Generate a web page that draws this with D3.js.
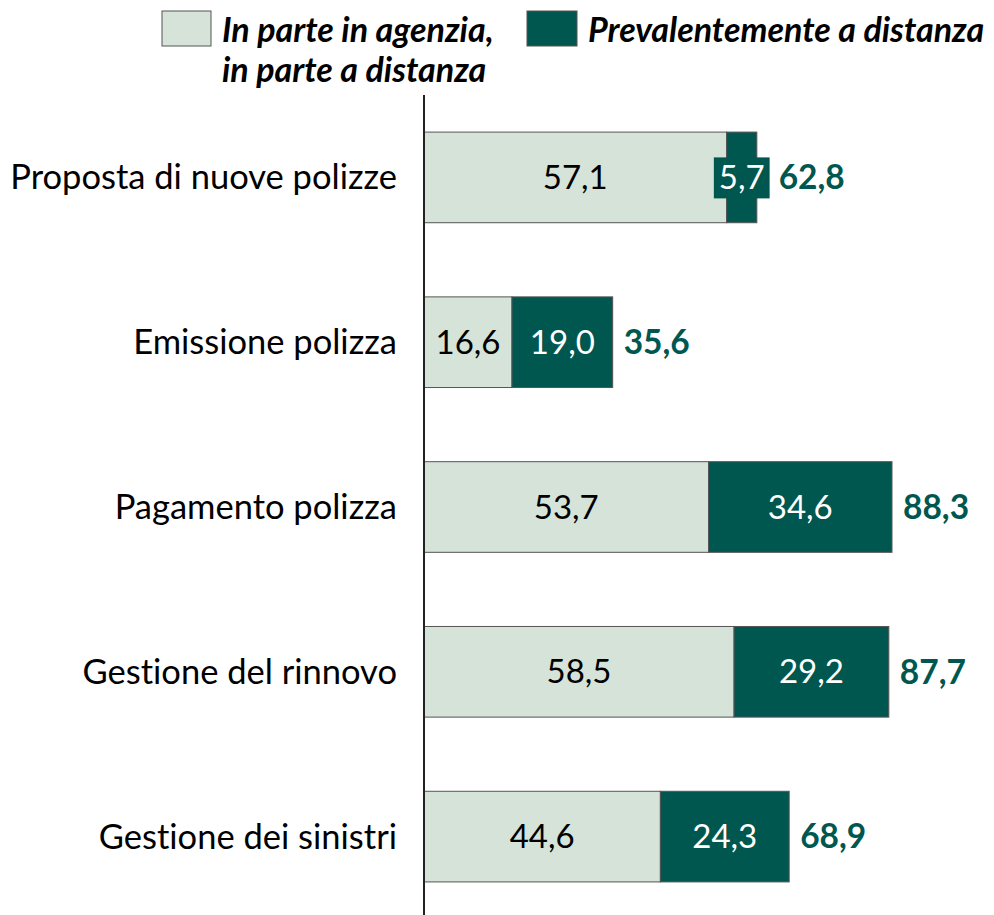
<!DOCTYPE html>
<html>
<head>
<meta charset="utf-8">
<script src="https://cdn.jsdelivr.net/npm/d3@7"></script>
<style>
  body { margin: 0; background: #fff; }
  svg { display: block; font-family: Lato, "Open Sans", sans-serif; font-variant-ligatures: none; }
</style>
</head>
<body>
<div id="chart"></div>
<script>
var categories = ["Proposta di nuove polizze", "Emissione polizza", "Pagamento polizza", "Gestione del rinnovo", "Gestione dei sinistri"]
var inParte = [57.1, 16.6, 53.7, 58.5, 44.6]
var distanza = [5.7, 19.0, 34.6, 29.2, 24.3]
var totali = [62.8, 35.6, 88.3, 87.7, 68.9]
var seriesNames = [["In parte in agenzia,", "in parte a distanza"], ["Prevalentemente a distanza"]]

var LIGHT = "#d5e3d8", DARK = "#00574f", STROKE = "#555"
var W = 994, H = 915
var X0 = 424

var fmt = function (v) { return v.toFixed(1).replace(".", ",") }

var svg = d3.select("#chart").append("svg")
    .attr("width", W)
    .attr("height", H)

var x = d3.scaleLinear().domain([0, 100]).range([X0, X0 + 530])
var y = d3.scaleBand().domain(categories).range([95, 919])
    .paddingInner(0.45).paddingOuter(0.225)

var rows = categories.map(function (c, i) {
    return { cat: c, a: inParte[i], b: distanza[i], t: totali[i] }
})

var g = svg.append("g")

// light segments
g.selectAll(".segA").data(rows).enter().append("rect")
    .attr("x", x(0))
    .attr("y", function (d) { return y(d.cat) })
    .attr("width", function (d) { return x(d.a) - x(0) })
    .attr("height", y.bandwidth())
    .attr("fill", LIGHT).attr("stroke", STROKE).attr("stroke-width", 1)

// dark segments
g.selectAll(".segB").data(rows).enter().append("rect")
    .attr("x", function (d) { return x(d.a) })
    .attr("y", function (d) { return y(d.cat) })
    .attr("width", function (d) { return x(d.a + d.b) - x(d.a) })
    .attr("height", y.bandwidth())
    .attr("fill", DARK).attr("stroke", STROKE).attr("stroke-width", 1)

// axis line
svg.append("line")
    .attr("x1", X0).attr("x2", X0)
    .attr("y1", 95).attr("y2", H)
    .attr("stroke", "#222").attr("stroke-width", 2)

// category labels
svg.selectAll(".cat").data(rows).enter().append("text")
    .attr("x", 397)
    .attr("y", function (d) { return y(d.cat) + y.bandwidth() / 2 })
    .attr("dy", "0.35em")
    .attr("text-anchor", "end")
    .attr("font-size", 34.5)
    .attr("fill", "#000")
    .text(function (d) { return d.cat })

// value labels in light segment
svg.selectAll(".labA").data(rows).enter().append("text")
    .attr("x", function (d) { return (x(0) + x(d.a)) / 2 })
    .attr("y", function (d) { return y(d.cat) + y.bandwidth() / 2 })
    .attr("dy", "0.35em")
    .attr("text-anchor", "middle")
    .attr("font-size", 33)
    .attr("fill", "#000")
    .text(function (d) { return fmt(d.a) })

// value labels in dark segment (with a box when the segment is narrow)
var labB = svg.selectAll(".labB").data(rows).enter().append("g")
labB.each(function (d) {
    var cx = (x(d.a) + x(d.a + d.b)) / 2
    var cy = y(d.cat) + y.bandwidth() / 2
    var t = d3.select(this).append("text")
        .attr("x", cx).attr("y", cy)
        .attr("dy", "0.35em")
        .attr("text-anchor", "middle")
        .attr("font-size", 33)
        .attr("fill", "#fff")
        .text(fmt(d.b))
    var tw = t.node().getComputedTextLength()
    if (tw + 6 > x(d.a + d.b) - x(d.a)) {
        d3.select(this).insert("rect", "text")
            .attr("x", cx - tw / 2 - 5)
            .attr("y", cy - 20)
            .attr("width", tw + 10)
            .attr("height", 41)
            .attr("fill", DARK)
        d.labRight = cx + tw / 2 + 5
    } else {
        d.labRight = 0
    }
})

// totals
svg.selectAll(".tot").data(rows).enter().append("text")
    .attr("x", function (d) { return Math.max(x(d.a + d.b) + 11, d.labRight + 9) })
    .attr("y", function (d) { return y(d.cat) + y.bandwidth() / 2 })
    .attr("dy", "0.35em")
    .attr("font-size", 33.5)
    .attr("font-weight", "bold")
    .attr("fill", DARK)
    .text(function (d) { return fmt(d.t) })

// legend
var leg = svg.append("g")
leg.append("rect").attr("x", 162).attr("y", 11).attr("width", 49).attr("height", 35)
    .attr("fill", LIGHT).attr("stroke", STROKE)
leg.append("text").attr("x", 222).attr("y", 42)
    .attr("font-size", 34).attr("font-weight", "bold").attr("font-style", "italic")
    .selectAll("tspan").data(seriesNames[0]).enter().append("tspan")
    .attr("x", 222)
    .attr("dy", function (d, i) { return i ? 40 : 0 })
    .text(function (d) { return d })
leg.append("rect").attr("x", 527).attr("y", 11).attr("width", 50).attr("height", 35)
    .attr("fill", DARK).attr("stroke", STROKE)
leg.append("text").attr("x", 588).attr("y", 42)
    .attr("font-size", 34).attr("font-weight", "bold").attr("font-style", "italic")
    .text(seriesNames[1][0])
</script>
</body>
</html>
